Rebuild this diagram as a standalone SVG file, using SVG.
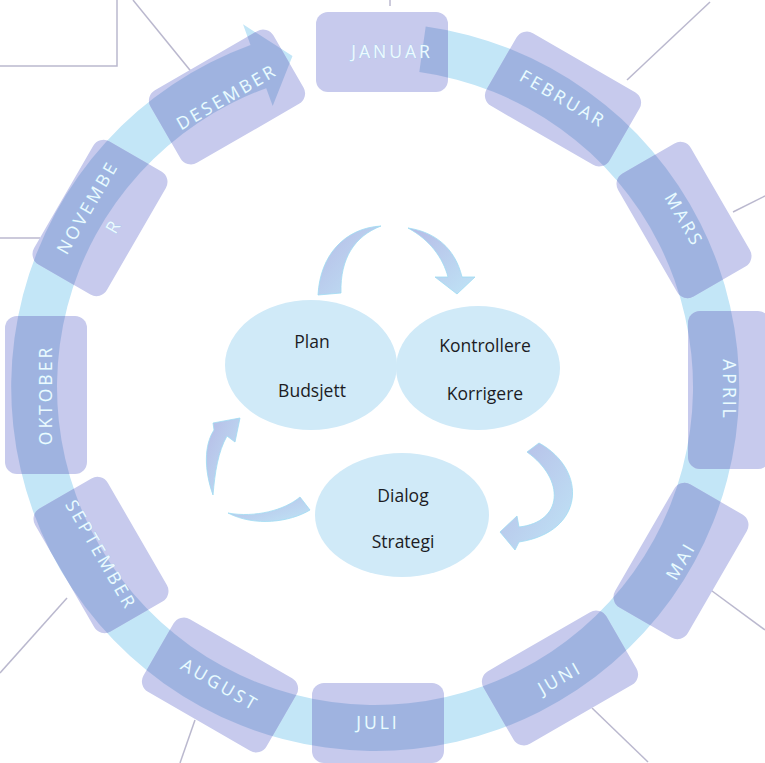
<svg xmlns="http://www.w3.org/2000/svg" width="765" height="763" viewBox="0 0 765 763">
<style>
  .bgline { stroke: #aeacc6; stroke-width: 1.5; fill: none; opacity: 0.85; }
  .ring { fill: #c3e6f7; }
  .box { fill: #c7caed; }
  .ov { fill: #9fb3e0; }
  .mt { font-family: "Open Sans", "Noto Sans", sans-serif; font-size: 17.5px; letter-spacing: 3px; fill: #eef9fe; stroke: #8cd6f1; stroke-width: 0.4; paint-order: stroke; text-anchor: middle; }
  .ell { fill: #d0eaf8; }
  .ct { font-family: "Open Sans", "Noto Sans", sans-serif; font-size: 17.5px; fill: #1c1c24; text-anchor: middle; }
  .carr { fill: url(#cg); stroke: #9fdcf3; stroke-width: 0.8; }
</style>
<defs>
  <linearGradient id="cg" x1="0" y1="0" x2="1" y2="1">
    <stop offset="0" stop-color="#b6bbe6"/>
    <stop offset="1" stop-color="#bfe4f6"/>
  </linearGradient>
  <path id="ringshape" d="M425.7,26.5 A364,364 0 1 1 250.5,45.0 L243.0,24.3 L292.5,56.1 L272.7,106.0 L266.2,88.2 A318,318 0 1 0 419.3,72.1 Z"/>
  <mask id="rm" maskUnits="userSpaceOnUse" x="0" y="0" width="765" height="763">
    <use href="#ringshape" fill="#ffffff"/>
  </mask>
  <rect id="bs" x="-71" y="-42" width="142" height="84" rx="12"/>
  <rect id="bh" x="-66" y="-40" width="132" height="80" rx="12"/>
  <rect id="bv" x="-79" y="-41" width="158" height="82" rx="12"/>
</defs>
<rect width="765" height="763" fill="#ffffff"/>
<g id="background-lines">
  <polyline class="bgline" points="0,66 117,66 117,0"/>
  <line class="bgline" x1="133" y1="0" x2="198" y2="80"/>
  <line class="bgline" x1="0" y1="238" x2="40" y2="238"/>
  <line class="bgline" x1="390" y1="0" x2="390" y2="6"/>
  <line class="bgline" x1="710" y1="2" x2="627" y2="80"/>
  <line class="bgline" x1="765" y1="196" x2="733" y2="212"/>
  <line class="bgline" x1="748" y1="408" x2="765" y2="410"/>
  <line class="bgline" x1="708" y1="588" x2="765" y2="630"/>
  <line class="bgline" x1="592" y1="708" x2="648" y2="762"/>
  <line class="bgline" x1="67" y1="598" x2="0" y2="673"/>
  <line class="bgline" x1="195" y1="720" x2="180" y2="763"/>
</g>
<g id="ring-arrow">
  <use href="#ringshape" class="ring"/>
</g>
<g id="month-jan">
  <use href="#bh" class="box" transform="translate(382,52)"/>
  <g mask="url(#rm)"><use href="#bh" class="ov" transform="translate(382,52)"/></g>
  <text class="mt" transform="translate(382,52)" x="10" y="6">JANUAR</text>
</g>
<g id="month-feb">
  <use href="#bs" class="box" transform="translate(563,99) rotate(30)"/>
  <g mask="url(#rm)"><use href="#bs" class="ov" transform="translate(563,99) rotate(30)"/></g>
  <text class="mt" transform="translate(563,99) rotate(30)" y="6">FEBRUAR</text>
</g>
<g id="month-mar">
  <use href="#bs" class="box" transform="translate(684,220) rotate(60)"/>
  <g mask="url(#rm)"><use href="#bs" class="ov" transform="translate(684,220) rotate(60)"/></g>
  <text class="mt" transform="translate(684,220) rotate(60)" y="6">MARS</text>
</g>
<g id="month-apr">
  <use href="#bv" class="box" transform="translate(729,390) rotate(90)"/>
  <g mask="url(#rm)"><use href="#bv" class="ov" transform="translate(729,390) rotate(90)"/></g>
  <text class="mt" transform="translate(729,390) rotate(90)" y="6">APRIL</text>
</g>
<g id="month-mai">
  <use href="#bs" class="box" transform="translate(681,561) rotate(-60)"/>
  <g mask="url(#rm)"><use href="#bs" class="ov" transform="translate(681,561) rotate(-60)"/></g>
  <text class="mt" transform="translate(681,561) rotate(-60)" y="6">MAI</text>
</g>
<g id="month-jun">
  <use href="#bs" class="box" transform="translate(560,678) rotate(-30)"/>
  <g mask="url(#rm)"><use href="#bs" class="ov" transform="translate(560,678) rotate(-30)"/></g>
  <text class="mt" transform="translate(560,678) rotate(-30)" y="6">JUNI</text>
</g>
<g id="month-jul">
  <use href="#bh" class="box" transform="translate(378,723)"/>
  <g mask="url(#rm)"><use href="#bh" class="ov" transform="translate(378,723)"/></g>
  <text class="mt" transform="translate(378,723)" y="6">JULI</text>
</g>
<g id="month-aug">
  <use href="#bs" class="box" transform="translate(220,685) rotate(30)"/>
  <g mask="url(#rm)"><use href="#bs" class="ov" transform="translate(220,685) rotate(30)"/></g>
  <text class="mt" transform="translate(220,685) rotate(30)" y="6">AUGUST</text>
</g>
<g id="month-sep">
  <use href="#bs" class="box" transform="translate(101,555) rotate(60)"/>
  <g mask="url(#rm)"><use href="#bs" class="ov" transform="translate(101,555) rotate(60)"/></g>
  <text class="mt" transform="translate(101,555) rotate(60)" y="6">SEPTEMBER</text>
</g>
<g id="month-okt">
  <use href="#bv" class="box" transform="translate(46,395) rotate(-90)"/>
  <g mask="url(#rm)"><use href="#bv" class="ov" transform="translate(46,395) rotate(-90)"/></g>
  <text class="mt" transform="translate(46,395) rotate(-90)" y="6">OKTOBER</text>
</g>
<g id="month-nov">
  <use href="#bs" class="box" transform="translate(100,218) rotate(-60)"/>
  <g mask="url(#rm)"><use href="#bs" class="ov" transform="translate(100,218) rotate(-60)"/></g>
  <text class="mt" transform="translate(100,218) rotate(-60)" x="3" y="-10">NOVEMBE</text>
  <text class="mt" transform="translate(100,218) rotate(-60)" x="0" y="22">R</text>
</g>
<g id="month-des">
  <use href="#bs" class="box" transform="translate(227,97) rotate(-30)"/>
  <g mask="url(#rm)"><use href="#bs" class="ov" transform="translate(227,97) rotate(-30)"/></g>
  <text class="mt" transform="translate(227,97) rotate(-30)" y="6">DESEMBER</text>
</g>
<g id="node-plan">
  <ellipse class="ell" cx="311" cy="365" rx="86" ry="65"/>
  <text class="ct" x="312" y="348">Plan</text>
  <text class="ct" x="312" y="397">Budsjett</text>
</g>
<g id="node-kontroll">
  <ellipse class="ell" cx="478" cy="368" rx="82" ry="62"/>
  <text class="ct" x="485" y="352">Kontrollere</text>
  <text class="ct" x="485" y="400">Korrigere</text>
</g>
<g id="node-dialog">
  <ellipse class="ell" cx="402" cy="515" rx="87" ry="62"/>
  <text class="ct" x="403" y="502">Dialog</text>
  <text class="ct" x="403" y="548">Strategi</text>
</g>
<g id="connectors">
  <path class="carr" d="M318,295 C320,255 345,228 381,226 C355,236 340,258 341,293 Z"/>
  <path class="carr" d="M408,228 C435,232 455,248 462,277 L475,277 L457,294 L435,277 L448,277 C443,258 430,240 408,228 Z"/>
  <path class="carr" d="M527,452 L539,443 C588,470 585,532 519,542 L515,550 L500,532 L517,516 L519,527 C563,522 566,480 527,452 Z"/>
  <path class="carr" d="M228,513 C255,527 290,522 310,510 L300,497 C285,510 255,518 228,513 Z"/>
  <path class="carr" d="M213,495 C204,470 204,445 214,430 L213,423 L240,418 L235,442 L227,436 C218,452 215,472 213,495 Z"/>
</g>
</svg>
